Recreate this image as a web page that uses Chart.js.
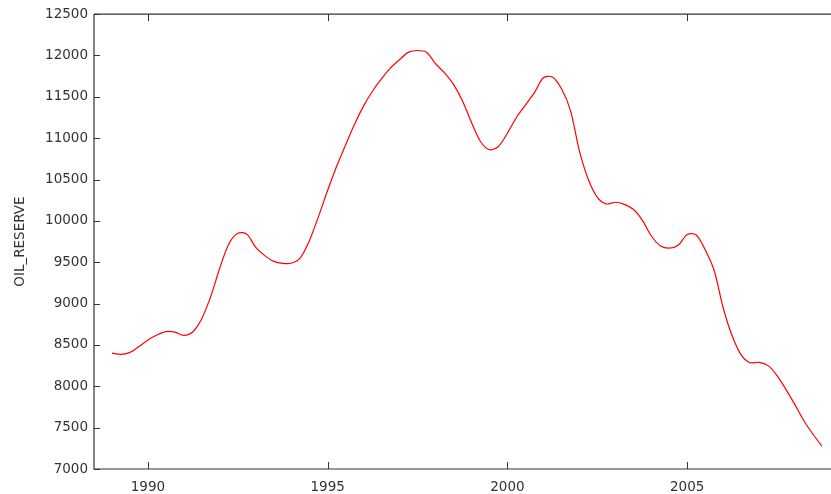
<!DOCTYPE html>
<html lang="en">
<head>
  <meta charset="UTF-8">
  <title>OIL_RESERVE</title>
  <script src="https://cdn.jsdelivr.net/npm/chart.js"></script>
  <style>
    html, body {
      margin: 0;
      padding: 0;
      background: #ffffff;
    }
    #wrap {
      width: 831px;
      height: 494px;
    }
  </style>
</head>
<body>
  <div id="wrap"><canvas id="chart" width="831" height="494"></canvas></div>

  <script>
    // quarterly observations, 1989 Q1 .. 2008 Q4
    const years = [1989, 1990, 1991, 1992, 1993, 1994, 1995, 1996, 1997, 1998,
                   1999, 2000, 2001, 2002, 2003, 2004, 2005, 2006, 2007, 2008];
    const quarterOffsets = [0, 0.25, 0.5, 0.75];

    const oilReserve = [
      8400, 8385, 8410, 8480,   8560, 8620, 8660, 8655,
      8615, 8660, 8820, 9090,   9430, 9720, 9850, 9840,
      9680, 9580, 9510, 9485,   9490, 9560, 9770, 10060,
      10370, 10660, 10920, 11170, 11390, 11570, 11720, 11850,
      11950, 12040, 12060, 12040, 11900, 11790, 11650, 11450,
      11190, 10960, 10860, 10900, 11060, 11250, 11400, 11550,
      11730, 11740, 11600, 11340, 10850, 10500, 10285, 10205,
      10225, 10200, 10140, 10010, 9820, 9700, 9670, 9705,
      9835, 9830, 9650, 9400,   8950, 8610, 8380, 8285,
      8290, 8250, 8130, 7960,   7775, 7580, 7420, 7275
    ];

    const yearTicks = [1990, 1995, 2000, 2005];
    const reserveTicks = [7000, 7500, 8000, 8500, 9000, 9500, 10000,
                          10500, 11000, 11500, 12000, 12500];

    const points = [];
    years.forEach((y, yi) => {
      quarterOffsets.forEach((q, qi) => {
        points.push({ x: y + q, y: oilReserve[yi * 4 + qi] });
      });
    });

    const textColor = '#333333';
    const axisColor = '#333333';
    const tickFont = { family: 'DejaVu Sans', size: 13.5 };

    // axis lines and inward tick marks, old plotting-package style
    const axesPlugin = {
      id: 'axesPlugin',
      afterDraw(chart) {
        const { ctx, chartArea: a, scales } = chart;
        ctx.save();
        ctx.strokeStyle = axisColor;
        ctx.lineWidth = 1.2;
        ctx.beginPath();
        ctx.moveTo(a.left, a.top);
        ctx.lineTo(a.left, a.bottom);
        ctx.lineTo(a.right, a.bottom);
        ctx.moveTo(a.left, a.top);
        ctx.lineTo(a.right, a.top);
        ctx.stroke();

        ctx.lineWidth = 1;
        ctx.beginPath();
        yearTicks.forEach(v => {
          const px = Math.round(scales.x.getPixelForValue(v)) + 0.5;
          ctx.moveTo(px, a.bottom);
          ctx.lineTo(px, a.bottom - 7);
          ctx.moveTo(px, a.top);
          ctx.lineTo(px, a.top + 7);
        });
        reserveTicks.forEach(v => {
          const py = Math.round(scales.y.getPixelForValue(v)) + 0.5;
          ctx.moveTo(a.left, py);
          ctx.lineTo(a.left + 6, py);
        });
        ctx.stroke();
        ctx.restore();
      }
    };

    new Chart(document.getElementById('chart'), {
      type: 'line',
      data: {
        datasets: [{
          label: 'OIL_RESERVE',
          data: points,
          borderColor: '#ff0000',
          borderWidth: 1.2,
          pointRadius: 0,
          tension: 0.3,
          fill: false
        }]
      },
      options: {
        responsive: false,
        animation: false,
        layout: { padding: { top: 14, right: 0, left: 0, bottom: 0 } },
        plugins: {
          legend: { display: false },
          tooltip: { enabled: false }
        },
        scales: {
          x: {
            type: 'linear',
            min: 1988.5,
            max: 2009.0,
            afterBuildTicks: s => { s.ticks = yearTicks.map(v => ({ value: v })); },
            afterFit: s => { s.height = 25; },
            ticks: {
              callback: v => String(v),
              color: textColor,
              font: tickFont,
              padding: 10,
              maxRotation: 0,
              autoSkip: false
            },
            grid: { display: false, drawTicks: false },
            border: { display: false }
          },
          y: {
            min: 7000,
            max: 12500,
            afterBuildTicks: s => { s.ticks = reserveTicks.map(v => ({ value: v })); },
            afterFit: s => { s.width = 94; },
            ticks: {
              callback: v => String(v),
              color: textColor,
              font: tickFont,
              padding: 6
            },
            grid: { display: false, drawTicks: false },
            border: { display: false },
            title: {
              display: true,
              text: 'OIL_RESERVE',
              color: textColor,
              font: { family: 'DejaVu Sans', size: 13.5 },
              padding: { top: 12, bottom: 0 }
            }
          }
        }
      },
      plugins: [axesPlugin]
    });
  </script>
</body>
</html>
